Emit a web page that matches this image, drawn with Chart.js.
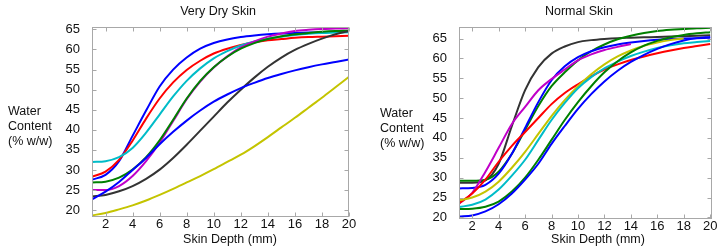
<!DOCTYPE html>
<html><head><meta charset="utf-8">
<script src="https://cdn.jsdelivr.net/npm/chart.js@4.4.1/dist/chart.umd.min.js"></script>
<style>
html,body{margin:0;padding:0;background:#fff;}
#wrap{position:relative;width:720px;height:251px;font-family:"Liberation Sans",Arial,sans-serif;color:#111;overflow:hidden;}
.box{position:absolute;top:0;width:360px;height:251px;}
.t{position:absolute;font-size:12.5px;white-space:nowrap;transform:translate(-50%,-50%);}
.yl{position:absolute;font-size:12.5px;line-height:15px;white-space:nowrap;}
</style></head>
<body>
<div id="wrap">
 <div class="box" style="left:0"><canvas id="c1" width="360" height="251"></canvas></div>
 <div class="box" style="left:360px"><canvas id="c2" width="360" height="251"></canvas></div>
 <div class="t" style="left:218px;top:11px">Very Dry Skin</div>
 <div class="t" style="left:579px;top:11px">Normal Skin</div>
 <div class="t" style="left:230px;top:239px">Skin Depth (mm)</div>
 <div class="t" style="left:598px;top:239px">Skin Depth (mm)</div>
 <div class="yl" style="left:8px;top:104px">Water<br>Content<br>(% w/w)</div>
 <div class="yl" style="left:380px;top:106px">Water<br>Content<br>(% w/w)</div>
</div>
<script>
// ---- data ----
const depth = [1,2,3,4,5,6,7,8,9,10,11,12,13,14,15,16,17,18,19,20];
const xTicks = [2,4,6,8,10,12,14,16,18,20];
const yTicksDry = [20,25,30,35,40,45,50,55,60,65];
const yTicksNormal = [20,25,30,35,40,45,50,55,60,65];

// Very Dry Skin
const dryBlueA   = [27.6,28.8,32.2,38.5,44.8,50.8,55,58,60.2,61.6,62.5,63.1,63.5,63.8,64,64.1,64.2,64.3,64.4,64.4];
const dryRed     = [28.3,29.6,32.5,37.3,42.8,47.8,51.8,54.9,57.2,59,60.2,61.1,61.8,62.3,62.6,62.9,63.1,63.2,63.3,63.4];
const dryCyan    = [32,32.2,33.2,35.5,39.3,43.8,48.3,52.2,55.3,57.8,59.6,61,62,62.7,63.2,63.6,63.9,64.1,64.2,64.3];
const dryGreen   = [26.9,27.1,28.1,30.1,33.2,37.4,42.5,47.8,52.2,55.6,58.2,60.2,61.6,62.6,63.3,63.8,64.1,64.4,64.6,64.7];
const dryMagenta = [25,25,26,28.5,32.2,36.8,42.2,47.6,52,55.5,58.3,60.5,62,63.2,64,64.6,64.9,65.1,65.2,65.3];
const dryBlack   = [23.4,23.8,24.7,26,27.8,30.1,33,36.3,39.8,43.3,46.8,50,53,55.7,58,59.9,61.4,62.7,63.8,64.6];
const dryBlueB   = [22.7,24.6,27,30,33,36.4,39.5,42.3,44.8,47,48.8,50.4,51.7,52.9,53.9,54.8,55.6,56.3,56.9,57.5];
const dryYellow  = [18.7,19.3,20.2,21.2,22.4,23.8,25.3,26.9,28.5,30.2,32,33.8,35.9,38.2,40.6,43,45.5,48,50.6,53.2];

// Normal Skin
const normBlack   = [28.7,28.7,29.3,33.5,43,52,57.8,61.2,63,64.1,64.6,64.9,65.1,65.2,65.3,65.4,65.5,65.6,65.7,65.8];
const normGreenA  = [29.2,29.2,29.5,31.5,36,42,48,53,56.5,59.5,61.8,63.5,64.8,65.7,66.4,66.9,67.2,67.4,67.6,67.7];
const normBlueA   = [27.3,27.4,28.2,31,36,42.5,49,54.5,58,60.3,61.8,62.8,63.5,64,64.4,64.7,64.9,65,65.1,65.2];
const normMagenta = [23.4,26.2,31.5,37.5,43.5,47.8,52,54.8,57.2,59.5,61,62.1,62.9,63.6,null,null,null,null,null,null];
const normRed     = [23.6,26,29.5,34,38,41.5,45,48.5,51.3,53.5,55.5,57.2,58.5,59.6,60.5,61.3,62,62.6,63.1,63.6];
const normYellow  = [24.3,25,26.5,29,32.5,36.5,41,45.5,49.5,53,56,58.5,60.5,62,63.2,64,64.6,65,null,null];
const normCyan    = [22.6,23.2,24.5,27,30.5,34.5,39.5,44.5,48.8,52.5,55.3,57.5,59.2,60.6,61.7,62.6,63.3,63.8,64.1,64.4];
const normGreenB  = [22.1,22.2,22.7,24,26.5,30,34.5,39.5,44.5,49,53,56.5,59.3,61.5,63.2,64.4,65.3,65.9,66.3,66.6];
const normBlueB   = [20.2,20.5,21.5,23.3,26,29.5,33.5,38.5,43,47.3,51,54.2,56.9,59.1,60.9,62.4,63.6,64.5,65.1,65.4];

const C = {blue:'#0000ff', red:'#ff0000', cyan:'#00bcc8', green:'#008000', magenta:'#c000c8', black:'#333333', yellow:'#c4c400'};
const FONT = {family:'"Liberation Sans", Arial, sans-serif', size:13};

const framePlugin = {
  id:'frame',
  afterDatasetsDraw(chart){
    const {ctx, chartArea:a, scales} = chart;
    const x = scales.x, y = scales.y;
    ctx.save();
    ctx.strokeStyle = '#a8a8a8'; ctx.lineWidth = 1;
    const L = Math.round(a.left)+0.5, R = Math.round(a.right)-0.5, T = Math.round(a.top)+0.5, B = Math.round(a.bottom)-0.5;
    ctx.strokeRect(L, T, R-L, B-T);
    ctx.beginPath();
    x.ticks.forEach(t => { const p = Math.round(x.getPixelForValue(t.value))+0.5; ctx.moveTo(p,B); ctx.lineTo(p,B-4); ctx.moveTo(p,T); ctx.lineTo(p,T+4); });
    y.ticks.forEach(t => { const p = Math.round(y.getPixelForValue(t.value))+0.5; ctx.moveTo(L,p); ctx.lineTo(L+4,p); ctx.moveTo(R,p); ctx.lineTo(R-4,p); });
    ctx.stroke();
    ctx.restore();
  }
};

function makeChart(id, cfg){
  return new Chart(document.getElementById(id), {
    type:'line',
    data:{datasets: cfg.series.map(s => ({
      data: depth.map((d,i) => ({x:d, y:s[0][i]})),
      borderColor: s[1], borderWidth: 2, pointRadius: 0, fill: false,
      cubicInterpolationMode: 'monotone', spanGaps: false
    }))},
    options:{
      responsive:false, animation:false, events:[],
      layout:{padding:{left:cfg.padL, right:cfg.padR, top:cfg.padT, bottom:0}},
      plugins:{legend:{display:false}, tooltip:{enabled:false}, title:{display:false}},
      scales:{
        x:{type:'linear', min:cfg.xMin, max:cfg.xMax,
           afterBuildTicks: s => { s.ticks = xTicks.map(v => ({value:v})); },
           afterFit: s => { s.height = cfg.xH; },
           grid:{display:false}, border:{display:false},
           ticks:{color:'#111', font:FONT, padding:cfg.xPad, maxRotation:0, autoSkip:false}},
        y:{type:'linear', min:cfg.yMin, max:cfg.yMax,
           afterBuildTicks: s => { s.ticks = cfg.yTicks.map(v => ({value:v})); },
           afterFit: s => { s.width = cfg.yW; },
           grid:{display:false}, border:{display:false},
           ticks:{color:'#111', font:FONT, padding:4, autoSkip:false}}
      }
    },
    plugins:[framePlugin]
  });
}

makeChart('c1', {
  padL:56, yW:36, padR:11, padT:27, xH:34, xPad:-8,
  xMin:1, xMax:20, yMin:18.3, yMax:65.6, yTicks:yTicksDry,
  series:[[dryYellow,C.yellow],[dryBlueB,C.blue],[dryBlack,C.black],[dryGreen,C.green],[dryMagenta,C.magenta],[dryCyan,C.cyan],[dryRed,C.red],[dryBlueA,C.blue]]
});
makeChart('c2', {
  padL:60, yW:39, padR:8.5, padT:27, xH:32, xPad:-8,
  xMin:1, xMax:20.1, yMin:19.6, yMax:67.9, yTicks:yTicksNormal,
  series:[[normBlueB,C.blue],[normGreenB,C.green],[normCyan,C.cyan],[normYellow,C.yellow],[normRed,C.red],[normMagenta,C.magenta],[normBlueA,C.blue],[normGreenA,C.green],[normBlack,C.black]]
});
</script>
</body></html>
